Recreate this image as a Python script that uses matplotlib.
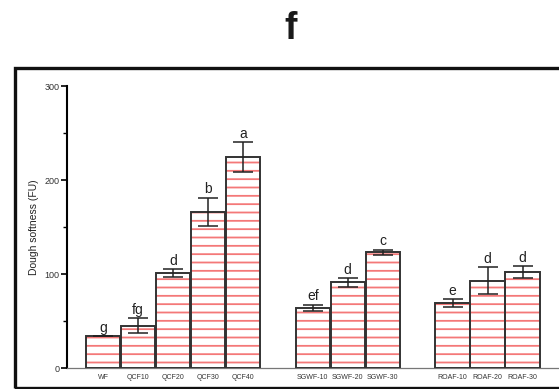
import matplotlib
matplotlib.use("Agg")
import matplotlib.pyplot as plt
from matplotlib.patches import Rectangle
import numpy as np

plt.rcParams['font.family'] = ['Liberation Sans', 'DejaVu Sans']
plt.rcParams['hatch.linewidth'] = 1.3

# Samples, grouped by flour type
labels = ["WF", "QCF10", "QCF20", "QCF30", "QCF40",
          "SGWF-10", "SGWF-20", "SGWF-30",
          "ROAF-10", "ROAF-20", "ROAF-30"]
positions = [0, 1, 2, 3, 4, 6, 7, 8, 10, 11, 12]
softness = [34, 45, 101, 166, 224, 64, 91, 123, 69, 93, 102]
sd = [0, 8, 4, 15, 16, 3.5, 4.5, 3, 4, 14, 6]
letters = ["g", "fg", "d", "b", "a", "ef", "d", "c", "e", "d", "d"]

W, H = 559, 389
fig = plt.figure(figsize=(W / 100, H / 100), dpi=100)

# panel frame (runs past the right edge)
fig.patches.append(Rectangle((15 / W, 1.5 / H), 1.2, (389 - 68 - 1.5) / H,
                             transform=fig.transFigure, fill=False,
                             edgecolor="#111111", linewidth=2.4, clip_on=False))

fig.text(291 / W, 1 - 29 / H, "f", ha="center", va="center",
         fontsize=27, fontweight="bold", color="#1a1a1a")

ax_left, ax_bottom = 67 / W, 21 / H
ax_right_px = 640
ax = fig.add_axes([ax_left, ax_bottom, (ax_right_px - 67) / W, (368 - 86) / H])

unit = 34.96
x0_px = 103
ax.set_xlim((67 - x0_px) / unit, (ax_right_px - x0_px) / unit)
ax.set_ylim(0, 300)

# hatched fill
ax.bar(positions, softness, width=0.98, color="white", edgecolor="#f47878",
       hatch="--", linewidth=0, zorder=2)
# bar outlines
ax.bar(positions, softness, width=0.98, fill=False, edgecolor="#333333",
       linewidth=1.4, zorder=3)
ax.errorbar(positions, softness, yerr=sd, fmt="none", ecolor="#222222",
            elinewidth=1.1, capsize=7, capthick=1.1, zorder=4)

for x, v, e, t in zip(positions, softness, sd, letters):
    ax.annotate(t, (x, v + e), xytext=(0, 1), textcoords="offset points",
                ha="center", va="bottom", fontsize=10, color="#222222")

for s in ["top", "right"]:
    ax.spines[s].set_visible(False)
ax.spines["left"].set_linewidth(1.5)
ax.spines["left"].set_color("black")
ax.spines["bottom"].set_linewidth(0.9)
ax.spines["bottom"].set_color("#777777")

ax.set_yticks([0, 100, 200, 300])
ax.set_yticks([50, 150, 250], minor=True)
ax.tick_params(axis="y", which="major", length=4, width=1.2, labelsize=6.5,
               labelcolor="#333333", pad=1.5)
ax.tick_params(axis="y", which="minor", length=3, width=1.0)
ax.set_xticks(positions)
ax.set_xticklabels(labels)
ax.tick_params(axis="x", length=0, labelsize=5, labelcolor="#333333", pad=4)

ax.set_ylabel("Dough softness (FU)", fontsize=7.5, color="#222222", labelpad=4)

fig.savefig("out.png", dpi=100)
